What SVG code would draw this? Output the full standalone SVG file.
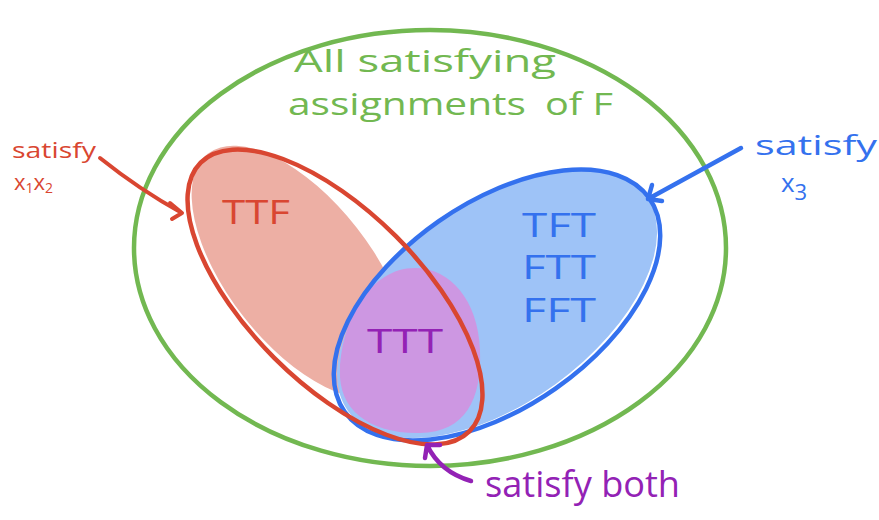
<svg xmlns="http://www.w3.org/2000/svg" width="879" height="520" viewBox="0 0 879 520">
<style>
.t{font-family:"Open Sans","Noto Sans",sans-serif;font-weight:500}
.g{fill:#72b851}.r{fill:#d94631}.b{fill:#3471ee}.p{fill:#9322b5}
.ln{fill:none;stroke-linecap:round;stroke-linejoin:round}
</style>
<rect width="879" height="520" fill="#fff"/>
<g id="all">
<ellipse cx="430" cy="248" rx="296" ry="218" class="ln" stroke="#72b851" stroke-width="4.5"/>
<text class="t g" x="294" y="72" font-size="31" textLength="262" lengthAdjust="spacingAndGlyphs">All satisfying</text>
<text class="t g" x="288" y="115" font-size="31" textLength="238" lengthAdjust="spacingAndGlyphs">assignments</text>
<text class="t g" x="545" y="115" font-size="31" textLength="68" lengthAdjust="spacingAndGlyphs">of F</text>
</g>
<g id="fills">
<ellipse cx="300" cy="272" rx="150" ry="72" transform="rotate(52 300 272)" fill="#edafa4"/>
<ellipse cx="497" cy="303" rx="184" ry="100" transform="rotate(-36 497 303)" fill="#9ec3f7"/>
<path d="M415,268 C450,268 478,300 480,350 C482,400 465,432 420,433 C370,434 338,410 340,370 C342,320 370,268 415,268 Z" fill="#cd97e2"/>
</g>
<g id="satisfy_x3">
<ellipse cx="497" cy="305" rx="186" ry="102" transform="rotate(-35 497 305)" class="ln" stroke="#3471ee" stroke-width="4.5"/>
<text class="t b" x="522" y="237" font-size="32" textLength="74" lengthAdjust="spacingAndGlyphs">TFT</text>
<text class="t b" x="522" y="279" font-size="32" textLength="74" lengthAdjust="spacingAndGlyphs">FTT</text>
<text class="t b" x="522" y="322" font-size="32" textLength="74" lengthAdjust="spacingAndGlyphs">FFT</text>
</g>
<g id="satisfy_x1x2">
<ellipse cx="335" cy="297" rx="190" ry="86" transform="rotate(45 335 297)" class="ln" stroke="#d94631" stroke-width="4.5"/>
<text class="t r" x="222" y="224" font-size="32" textLength="68" lengthAdjust="spacingAndGlyphs">TTF</text>
</g>
<g id="both">
<text class="t p" x="367" y="353" font-size="32" textLength="76" lengthAdjust="spacingAndGlyphs">TTT</text>
</g>
<g id="connectors">
<path class="ln" stroke="#d94631" stroke-width="4" d="M100,158 Q140,190 182,213 M170,203 L182,213 L172,219"/>
<path class="ln" stroke="#3471ee" stroke-width="4.5" d="M741,148 L648,199 M652,185 L648,199 L662,201"/>
<path class="ln" stroke="#9322b5" stroke-width="4.5" d="M471,481 Q440,472 427,445 M425,458 L427,445 L440,445"/>
</g>
<g id="labels">
<text class="t r" x="12" y="158" font-size="22" textLength="84" lengthAdjust="spacingAndGlyphs">satisfy</text>
<text class="t r" x="14" y="190" font-size="22">x<tspan font-size="14" dy="3">1</tspan><tspan dy="-3">x</tspan><tspan font-size="14" dy="3">2</tspan></text>
<text class="t b" x="755" y="155" font-size="27" textLength="122" lengthAdjust="spacingAndGlyphs">satisfy</text>
<text class="t b" x="781" y="192" font-size="26">x<tspan font-size="22" dy="8">3</tspan></text>
<text class="t p" x="485" y="497" font-size="36" textLength="195" lengthAdjust="spacingAndGlyphs">satisfy both</text>
</g>
</svg>
